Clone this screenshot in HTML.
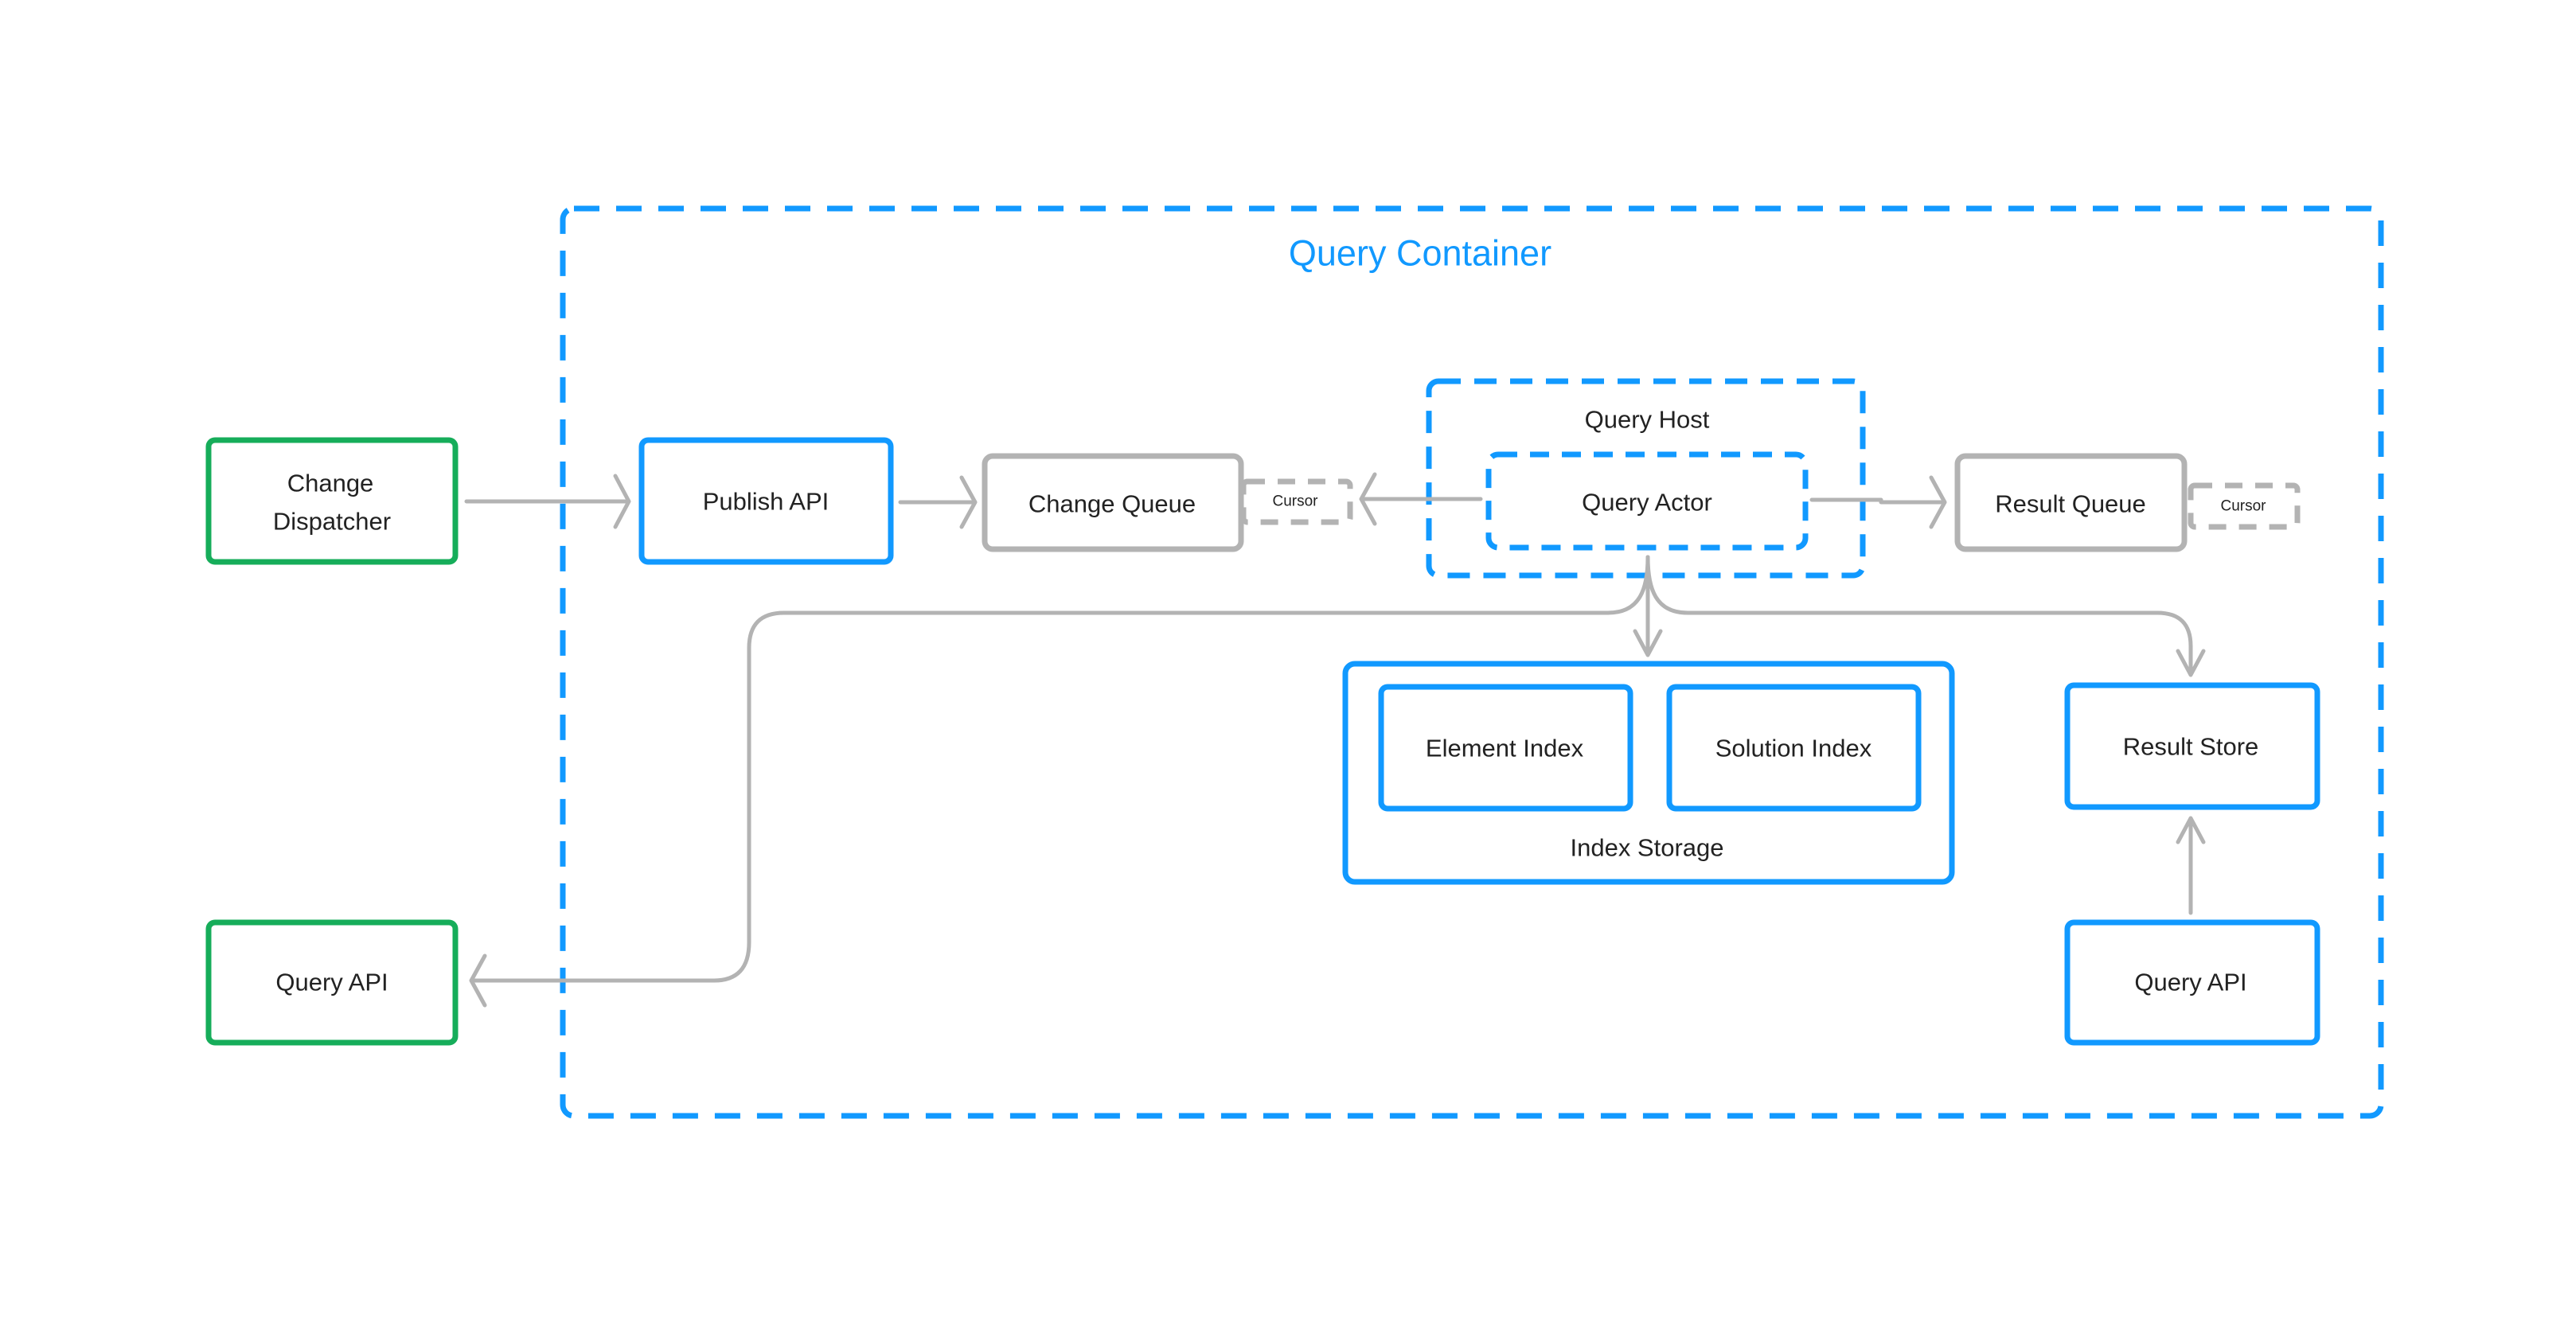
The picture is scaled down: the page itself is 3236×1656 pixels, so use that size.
<!DOCTYPE html>
<html><head><meta charset="utf-8"><style>
html,body{margin:0;padding:0;background:#fff;}
svg{display:block;}
text{font-family:"Liberation Sans",sans-serif;fill:#222;text-anchor:middle;dominant-baseline:central;}
</style></head><body>
<svg width="3236" height="1656" viewBox="0 0 3236 1656" xmlns="http://www.w3.org/2000/svg">
<g fill="none" stroke-linejoin="round">
<rect x="707" y="262" width="2284" height="1140" rx="14" stroke="#1199FF" stroke-width="7" stroke-dasharray="32 21"/>
<rect x="1795" y="479" width="545" height="244" rx="12" stroke="#1199FF" stroke-width="7" stroke-dasharray="28 17"/>
<rect x="1870" y="571" width="398" height="117" rx="12" stroke="#1199FF" stroke-width="7" stroke-dasharray="24 16"/>
<rect x="262" y="553" width="310" height="153" rx="8" stroke="#16AD5A" stroke-width="7"/>
<rect x="262" y="1159" width="310" height="151" rx="8" stroke="#16AD5A" stroke-width="7"/>
<rect x="806" y="553" width="313" height="153" rx="8" stroke="#1199FF" stroke-width="7"/>
<rect x="1690" y="834" width="762" height="274" rx="12" stroke="#1199FF" stroke-width="7"/>
<rect x="1735" y="863" width="313" height="153" rx="8" stroke="#1199FF" stroke-width="7"/>
<rect x="2097" y="863" width="313" height="153" rx="8" stroke="#1199FF" stroke-width="7"/>
<rect x="2597" y="861" width="314" height="153" rx="8" stroke="#1199FF" stroke-width="7"/>
<rect x="2597" y="1159" width="314" height="151" rx="8" stroke="#1199FF" stroke-width="7"/>
<rect x="1237" y="573" width="322" height="117" rx="10" stroke="#B3B3B3" stroke-width="7"/>
<rect x="2459" y="573" width="285" height="117" rx="10" stroke="#B3B3B3" stroke-width="7"/>
<rect x="1562" y="605" width="134" height="51" rx="5" stroke="#B3B3B3" stroke-width="7" stroke-dasharray="22 16"/>
<rect x="2752" y="610" width="134" height="52" rx="5" stroke="#B3B3B3" stroke-width="7" stroke-dasharray="22 16"/>
<g stroke="#B3B3B3" stroke-width="5" stroke-linecap="round">
<path d="M586 630 H790 M773 598 L790 630 L773 662"/>
<path d="M1131 631 H1225 M1208 600 L1225 631 L1208 662"/>
<path d="M1860 627 H1710 M1727 596 L1710 627 L1727 658"/>
<path d="M2276 628 H2363 V631 H2443 M2426 600 L2443 631 L2426 662"/>
<path d="M2070 700 V823 M2054 793 L2070 823 L2086 793"/>
<path d="M2070 700 C2070 740 2060 770 2020 770 H985 Q941 770 941 814 V1184 Q941 1232 897 1232 H592 M609 1201 L592 1232 L609 1263"/>
<path d="M2070 700 C2070 740 2080 770 2120 770 H2710 Q2752 770 2752 812 V848 M2736 818 L2752 848 L2768 818"/>
<path d="M2752 1147 V1028 M2736 1058 L2752 1028 L2768 1058"/>
</g>
</g>
<text x="1784" y="318" style="font-size:45px;fill:#1199FF">Query Container</text>
<text x="415" y="607" style="font-size:31px">Change</text>
<text x="417" y="655" style="font-size:31px">Dispatcher</text>
<text x="962" y="630" style="font-size:31px">Publish API</text>
<text x="1397" y="633" style="font-size:31px">Change Queue</text>
<text x="1627" y="630" style="font-size:19px">Cursor</text>
<text x="2069" y="527" style="font-size:31px">Query Host</text>
<text x="2069" y="631" style="font-size:31px">Query Actor</text>
<text x="2601" y="633" style="font-size:31px">Result Queue</text>
<text x="2818" y="636" style="font-size:19px">Cursor</text>
<text x="1890" y="940" style="font-size:31px">Element Index</text>
<text x="2253" y="940" style="font-size:31px">Solution Index</text>
<text x="2069" y="1065" style="font-size:31px">Index Storage</text>
<text x="2752" y="938" style="font-size:31px">Result Store</text>
<text x="417" y="1234" style="font-size:31px">Query API</text>
<text x="2752" y="1234" style="font-size:31px">Query API</text>
</svg>
</body></html>
